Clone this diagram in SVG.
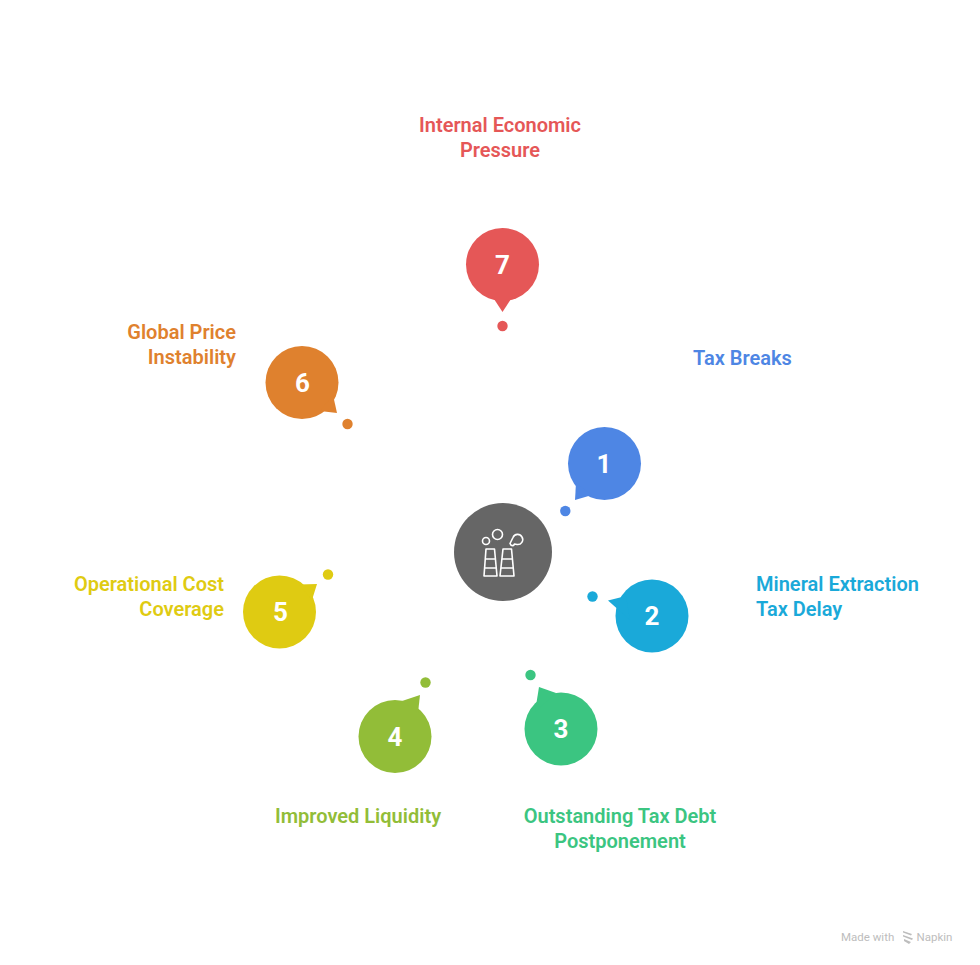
<svg xmlns="http://www.w3.org/2000/svg" width="980" height="965" viewBox="0 0 980 965">
<style>
.lb{font-family:Roboto,"Liberation Sans",sans-serif;font-size:20px;font-weight:600}
.n{font-family:Roboto,"Liberation Sans",sans-serif;font-size:26px;font-weight:700;fill:#fff;text-anchor:middle}
.e{text-anchor:end}.m{text-anchor:middle}
.ic{fill:none;stroke:#fff;stroke-width:1.6;stroke-linejoin:round}
</style>
<rect width="980" height="965" fill="#fff"/>
<g id="center"><circle cx="503" cy="552" r="49" fill="#666"/>
<g class="ic"><circle cx="486" cy="541" r="3.5"/><circle cx="497.500" cy="534.500" r="5"/>
<path d="M510 543.500l3-6a5 5 0 0 1 9-.5a5 5 0 0 1-5 7.500l-2.500-.5l-1 1.500a3 3 0 0 1-3.500-2z"/>
<path d="M486 549h8.500l2.500 27h-13zM503 549h8.500l2.500 27h-14zM485 559h11M484 568h12M502 559h11M501 568h12"/></g></g>
<g id="node-1" fill="#4e86e4"><circle cx="604.500" cy="463.500" r="36.500"/><path d="M576 483L575 500L592 495z"/><circle cx="565.300" cy="511" r="5.200"/><text class="n" x="604" y="472.500">1</text><text class="lb" x="693" y="365">Tax Breaks</text></g>
<g id="node-2" fill="#1aa9d9"><circle cx="652" cy="616" r="36.500"/><path d="M608 600.500L626 596L630 620z"/><circle cx="592.500" cy="596.500" r="5.200"/><text class="n" x="652" y="625">2</text><text class="lb" x="756" y="591">Mineral Extraction</text><text class="lb" x="756" y="616">Tax Delay</text></g>
<g id="node-3" fill="#3bc581"><circle cx="561" cy="729" r="36.500"/><path d="M539 687L556 693L535 712z"/><circle cx="530.500" cy="675" r="5.200"/><text class="n" x="561" y="738">3</text><text class="lb m" x="620" y="823">Outstanding Tax Debt</text><text class="lb m" x="620" y="848">Postponement</text></g>
<g id="node-4" fill="#92bd38"><circle cx="395" cy="736.500" r="36.500"/><path d="M420 695L418 713L402 701z"/><circle cx="425.500" cy="682.500" r="5.200"/><text class="n" x="395" y="745.500">4</text><text class="lb m" x="358" y="823">Improved Liquidity</text></g>
<g id="node-5" fill="#dfcb12"><circle cx="279.500" cy="612" r="36.500"/><path d="M317 584L299 584.500L312 600z"/><circle cx="328" cy="574.500" r="5.200"/><text class="n" x="280.500" y="621">5</text><text class="lb e" x="224" y="591">Operational Cost</text><text class="lb e" x="224" y="616">Coverage</text></g>
<g id="node-6" fill="#df812e"><circle cx="302" cy="382.500" r="36.500"/><path d="M337 413L333 395L320 411z"/><circle cx="347.500" cy="424" r="5.200"/><text class="n" x="302.500" y="391.500">6</text><text class="lb e" x="236" y="339">Global Price</text><text class="lb e" x="236" y="364">Instability</text></g>
<g id="node-7" fill="#e55757"><circle cx="502.500" cy="264.500" r="36.500"/><path d="M502.500 312L492 296L513 296z"/><circle cx="502.500" cy="326" r="5.200"/><text class="n" x="502.500" y="273.500">7</text><text class="lb m" x="500" y="132">Internal Economic</text><text class="lb m" x="500" y="157">Pressure</text></g>
<g id="connectors"></g>
<g id="watermark" fill="#bdbdbd"><text x="841" y="941" font-family="Roboto,'Liberation Sans',sans-serif" font-size="11.500">Made with</text><path d="M903 931l9 3-1 1.500-8-3zM903 935l10 3.500-1 1.500-9-3.500zM904 939l7 3-2 2-5-3z"/><text x="916.500" y="941" font-family="Roboto,'Liberation Sans',sans-serif" font-size="11.500">Napkin</text></g>
</svg>
